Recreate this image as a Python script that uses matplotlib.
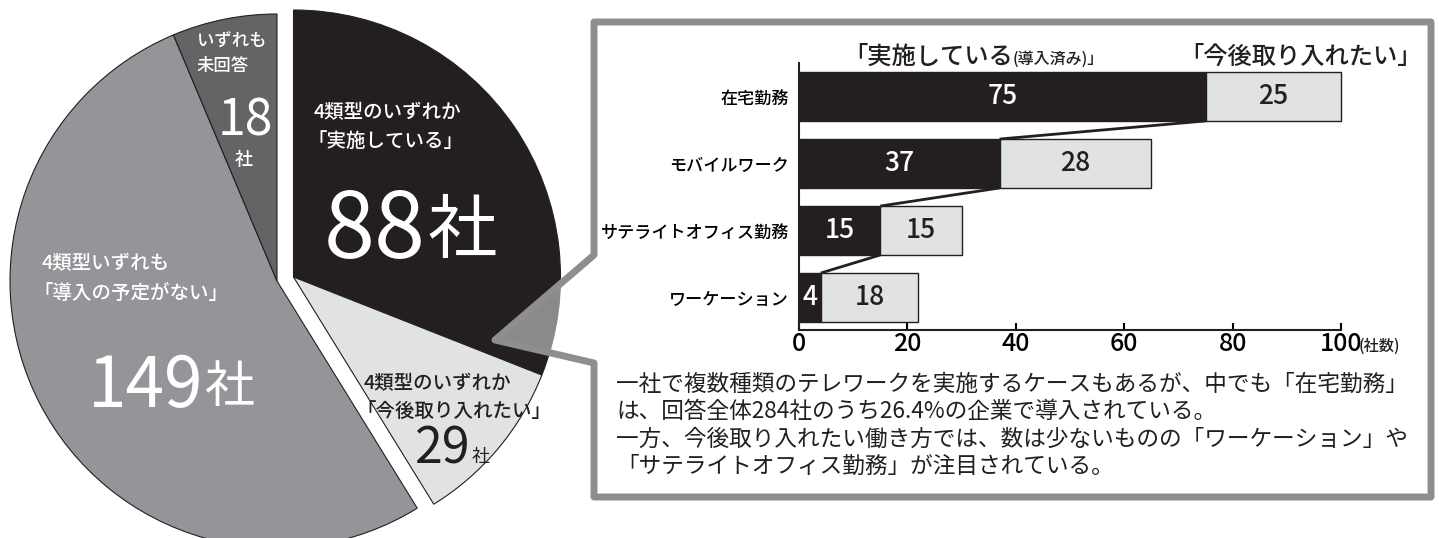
import matplotlib
matplotlib.use("Agg")
import matplotlib.pyplot as plt
from matplotlib.patches import Polygon

plt.rcParams['font.family'] = ['Noto Sans CJK JP', 'DejaVu Sans']

W, H = 1439, 538
BLACK = '#231f20'

# 円グラフ (社数)
pie_values = [88, 29, 149, 18]   # 実施している / 今後取り入れたい / 予定がない / 未回答
pie_colors = [BLACK, '#e1e2e4', '#939598', '#636466']

# 棒グラフ
categories = ['在宅勤務', 'モバイルワーク', 'サテライトオフィス勤務', 'ワーケーション']
done = [75, 37, 15, 4]
planned = [25, 28, 15, 18]
xticks = [0, 20, 40, 60, 80, 100]

note_lines = [
    '一社で複数種類のテレワークを実施するケースもあるが、中でも「在宅勤務」',
    'は、回答全体284社のうち26.4%の企業で導入されている。',
    '一方、今後取り入れたい働き方では、数は少ないものの「ワーケーション」や',
    '「サテライトオフィス勤務」が注目されている。',
]

fig = plt.figure(figsize=(W / 100, H / 100), dpi=100)
ax = fig.add_axes([0, 0, 1, 1])

wedges, _ = ax.pie(pie_values, colors=pie_colors, startangle=90, counterclock=False,
                   center=(277, H - 281), radius=267,
                   wedgeprops=dict(edgecolor=BLACK, linewidth=0.8))
# 実施/今後 の2つをまとめて切り出す
for w in wedges[:2]:
    cx, cy = w.center
    w.set_center((cx + 16.5, cy + 4))

ax.set_xlim(0, W)
ax.set_ylim(0, H)
ax.set_aspect('auto')
ax.axis('off')


def put(x, y, s, size, color='white', **kw):
    # y は画像の上からのピクセル
    return ax.text(x, H - y, s, fontsize=size, color=color, **kw)


# 円グラフのラベル
put(197, 42, 'いずれも', 12.5, va='center', fontweight='medium')
put(197, 66, '未回答', 12.5, va='center', fontweight='medium')
put(245, 135, '18', 36, ha='center', va='baseline')
put(244, 160, '社', 13, ha='center', va='center', fontweight='medium')

put(314, 113, '4類型のいずれか', 14, va='center', fontweight='medium')
put(307, 141, '「実施している」', 14, va='center', fontweight='medium')
put(426, 258, '88', 66, ha='right', va='baseline')
put(428, 252, '社', 50, ha='left', va='baseline')

put(42, 264, '4類型いずれも', 14, va='center', fontweight='medium')
put(33, 293, '「導入の予定がない」', 14, va='center', fontweight='medium')
put(203, 407, '149', 50, ha='right', va='baseline')
put(205, 402, '社', 36, ha='left', va='baseline')

put(364, 384, '4類型のいずれか', 14, color=BLACK, va='center', fontweight='medium')
put(356, 411, '「今後取り入れたい」', 14, color=BLACK, va='center', fontweight='medium')
put(471, 464, '29', 36, color=BLACK, ha='right', va='baseline')
put(472, 462, '社', 13, color=BLACK, ha='left', va='baseline')

# 吹き出し枠
box = [(594, 22), (1431, 22), (1431, 497), (594, 497), (594, 363), (495, 340), (594, 255)]
ax.add_patch(Polygon([(x, H - y) for x, y in box], closed=True,
                     facecolor=(1, 1, 1, 0.48), edgecolor='#8e8e8e', lw=5,
                     joinstyle='round', zorder=5))

# 見出し
t1 = put(843, 57, '「実施している', 17.5, color=BLACK, va='center', zorder=6, fontweight='medium')
ax.annotate('(導入済み)」', xy=(1, 0.1), xycoords=t1, va='bottom', fontsize=11.5,
            color=BLACK, fontweight='medium', zorder=6)
put(1422, 57, '「今後取り入れたい」', 17.5, color=BLACK, ha='right', va='center', zorder=6,
    fontweight='medium')
put(1359, 346, '(社数)', 11, color=BLACK, va='center', zorder=6, fontweight='medium')

for i, line in enumerate(note_lines):
    put(616, 384 + i * 27.5, line, 16.3, color=BLACK, va='center', zorder=6)

# 棒グラフ
bx = fig.add_axes([799 / W, (H - 330) / H, 542 / W, 267 / H])
bx.set_facecolor('none')
pos = [3, 2, 1, 0]
h = 0.73
bx.barh(pos, done, height=h, color=BLACK, edgecolor=BLACK, lw=1, clip_on=False)
bx.barh(pos, planned, left=done, height=h, color='#e1e2e4', edgecolor=BLACK, lw=1, clip_on=False)
for i in range(len(pos) - 1):
    bx.plot([done[i], done[i + 1]], [pos[i] - h / 2, pos[i + 1] + h / 2],
            color=BLACK, lw=2, solid_capstyle='butt')

for p, d, q in zip(pos, done, planned):
    bx.text(d / 2, p, str(d), color='white', ha='center', va='center', fontsize=19,
            fontweight='medium')
    bx.text(d + q / 2, p, str(q), color=BLACK, ha='center', va='center', fontsize=19,
            fontweight='medium')

bx.set_xlim(0, 100)
bx.set_ylim(-0.485, 3.5)
bx.set_xticks(xticks)
bx.set_yticks(pos, categories)
bx.tick_params(axis='x', direction='in', length=5, width=1.5, labelsize=18, pad=1)
bx.tick_params(axis='y', length=0, labelsize=12.3, pad=7)
for lab in bx.get_yticklabels() + bx.get_xticklabels():
    lab.set_fontweight('medium')
for s in ['top', 'right']:
    bx.spines[s].set_visible(False)
for s in ['left', 'bottom']:
    bx.spines[s].set_linewidth(1.5)
    bx.spines[s].set_color(BLACK)

fig.savefig('out.png', dpi=100)
